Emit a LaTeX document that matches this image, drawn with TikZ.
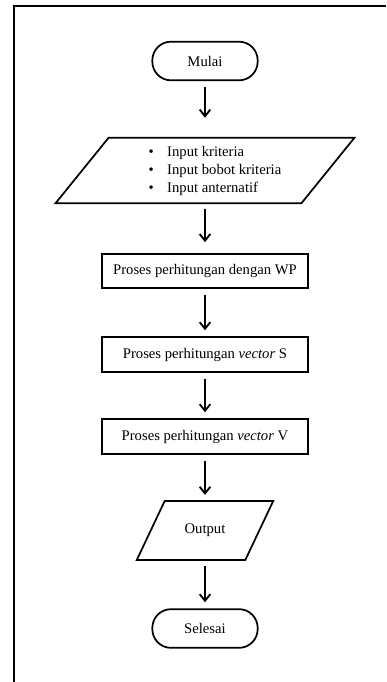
\documentclass[tikz,border=0pt]{standalone}
\usepackage{fontspec}
\setmainfont{Liberation Serif}
\usetikzlibrary{arrows.meta}

\tikzset{
    terminal/.style={draw, line width=1.3pt, rounded corners=14pt, minimum width=79pt, minimum height=29pt, inner sep=0pt},
    process/.style={draw, line width=1.3pt, minimum width=154.5pt, minimum height=26pt, inner sep=0pt},
    data/.style={inner sep=0pt},
    dataline/.style={line width=1.3pt, line join=miter},
    flow/.style={-{Straight Barb[length=5pt, width=8pt]}, line width=1.4pt, shorten <=4.5pt, shorten >=4.5pt}
}

\begin{document}
\begin{tikzpicture}[x=0.75pt, y=-0.75pt, font=\fontsize{11}{13.5}\selectfont]

    % --- Page ---
    \useasboundingbox (0, 0) rectangle (386, 682);
    \coordinate (frameTop) at (386, 6);
    \coordinate (frameCorner) at (14, 6);
    \coordinate (frameBottom) at (14, 682);
    \draw[line width=1.5pt] (frameTop) -- (frameCorner) -- (frameBottom);

    % --- Flowchart ---
    \node[terminal] (mulai) at (205, 61) {Mulai};
    \node[data, minimum width=184pt, minimum height=48.75pt] (input) at (205, 170.5)
        {\begin{tabular}{@{\hspace{15pt}}l@{}}
            \textbullet\hspace{10pt}Input kriteria\\
            \textbullet\hspace{10pt}Input bobot kriteria\\
            \textbullet\hspace{10pt}Input anternatif
        \end{tabular}};
    \draw[dataline] ([xshift=19.9pt]input.north west) -- ([xshift=19.9pt]input.north east)
        -- ([xshift=-19.9pt]input.south east) -- ([xshift=-19.9pt]input.south west) -- cycle;
    \node[process] (wp) at (205, 271) {Proses perhitungan dengan WP};
    \node[process] (vs) at (205, 354.5) {Proses perhitungan \textit{vector} S};
    \node[process] (vv) at (205, 436.5) {Proses perhitungan \textit{vector} V};
    \node[data, minimum width=81pt, minimum height=44pt] (output) at (205, 530.5) {Output};
    \draw[dataline] ([xshift=10.5pt]output.north west) -- ([xshift=10.5pt]output.north east)
        -- ([xshift=-10.5pt]output.south east) -- ([xshift=-10.5pt]output.south west) -- cycle;
    \node[terminal] (selesai) at (205, 628.5) {Selesai};

    % --- Arrows ---
    \draw[flow, shorten >=15pt] (mulai) -- (input);
    \draw[flow, shorten >=8pt] (input) -- (wp);
    \draw[flow] (wp) -- (vs);
    \draw[flow] (vs) -- (vv);
    \draw[flow] (vv) -- (output);
    \draw[flow] (output) -- (selesai);

\end{tikzpicture}
\end{document}
